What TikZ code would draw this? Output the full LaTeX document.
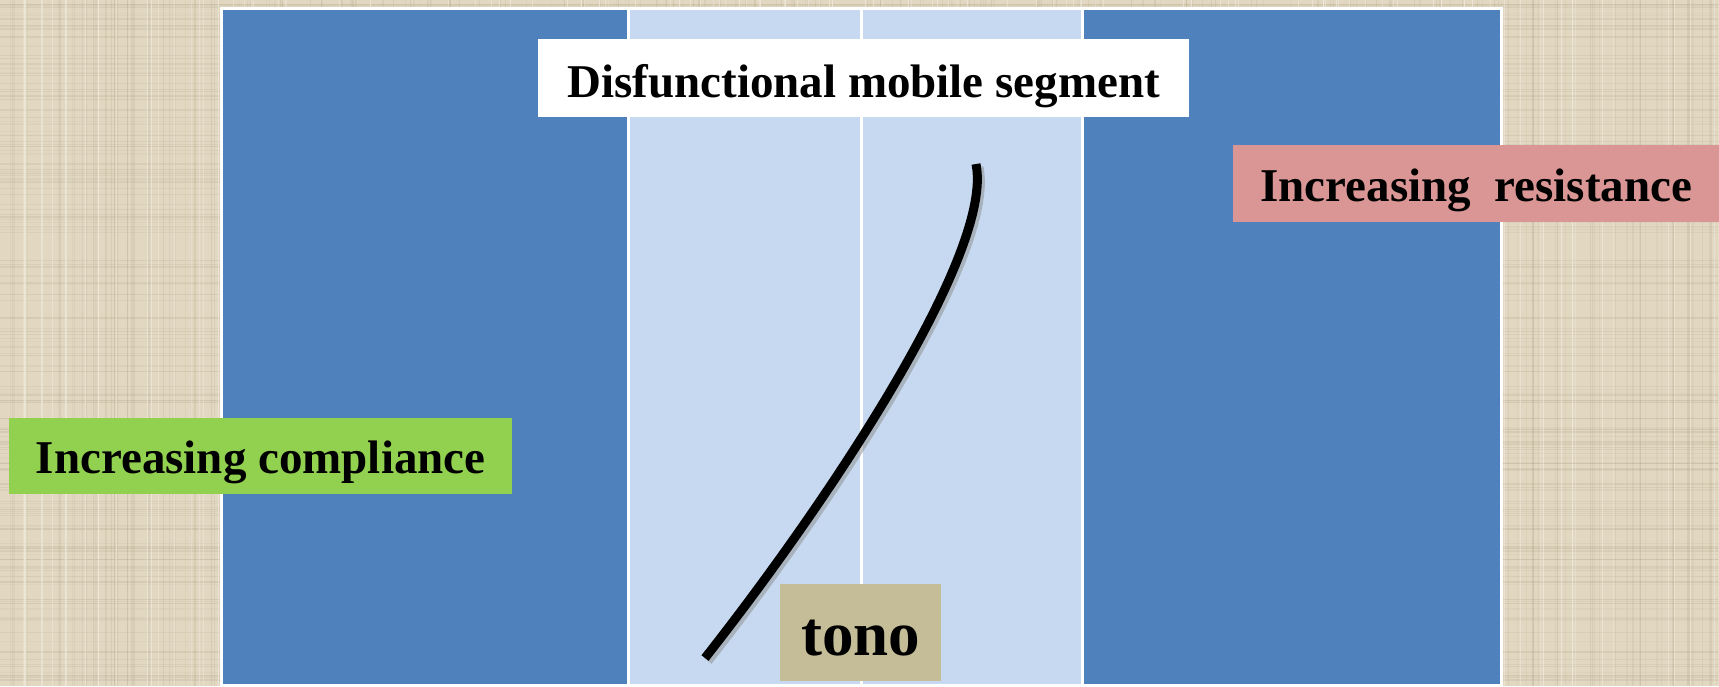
\documentclass[tikz,border=0pt]{standalone}
\usepackage{fontspec}
\setmainfont{Liberation Serif}
\definecolor{linen}{HTML}{E2D8C2}
\definecolor{linendark}{HTML}{B0A386}
\definecolor{linenlight}{HTML}{F3EEE2}
\definecolor{colblue}{HTML}{4F81BD}
\definecolor{collight}{HTML}{C6D9F0}
\definecolor{tagwhite}{HTML}{FFFFFF}
\definecolor{taggreen}{HTML}{92D050}
\definecolor{tagpink}{HTML}{D99694}
\definecolor{tagtan}{HTML}{C4BD97}
\begin{document}
\begin{tikzpicture}[x=1pt,y=-1pt,
  tag/.style={anchor=north west,inner sep=0pt,align=center,
    font=\fontsize{47}{56}\selectfont\bfseries},
  curveline/.style={line width=9pt,line cap=butt}]
\useasboundingbox (0,0) rectangle (1719,686);
% linen backdrop
\fill[linen] (0,0) rectangle (1719,686);
\pgfmathsetseed{42}
\foreach \i in {1,...,220}{
  \pgfmathsetmacro{\xx}{rnd*1719}
  \pgfmathsetmacro{\op}{0.08+0.18*rnd}
  \draw[linendark,opacity=\op,line width=1.2pt] (\xx,0) -- (\xx,686);
}
\foreach \i in {1,...,160}{
  \pgfmathsetmacro{\yy}{rnd*686}
  \pgfmathsetmacro{\op}{0.08+0.18*rnd}
  \draw[linendark,opacity=\op,line width=1.2pt] (0,\yy) -- (1719,\yy);
}
\foreach \i in {1,...,120}{
  \pgfmathsetmacro{\xx}{rnd*1719}
  \pgfmathsetmacro{\op}{0.3+0.4*rnd}
  \draw[linenlight,opacity=\op,line width=1pt] (\xx,0) -- (\xx,686);
}
% four-column band
\fill[white] (220,7) rectangle (1503,686);
\fill[colblue]  (223,10) rectangle (627,684);
\fill[collight] (630,10) rectangle (860,684);
\fill[collight] (863,10) rectangle (1081,684);
\fill[colblue]  (1084,10) rectangle (1500,684);
% curve of the mobile segment
\coordinate (c0) at (705,658);
\coordinate (c1) at (976,164);
\draw[curveline,black!45,opacity=0.5,transform canvas={xshift=3pt,yshift=-3pt}]
  (c0) .. controls (831,498) and (994,252) .. (c1);
\draw[curveline,black] (c0) .. controls (831,498) and (994,252) .. (c1);
% labels
\node[tag,fill=tagwhite,minimum width=651pt,text height=58pt,text depth=20pt]
  (seg) at (538,39) {Disfunctional mobile segment};
\node[tag,fill=tagpink,minimum width=486pt,text height=56pt,text depth=21pt]
  (res) at (1233,145) {Increasing\ \ resistance};
\node[tag,fill=taggreen,minimum width=503pt,text height=55pt,text depth=21pt]
  (comp) at (9,418) {Increasing compliance};
\node[tag,fill=tagtan,minimum width=161pt,text height=71pt,text depth=26pt,
  font=\fontsize{63}{70}\selectfont\bfseries]
  (tono) at (780,584) {tono};
\end{tikzpicture}
\end{document}
